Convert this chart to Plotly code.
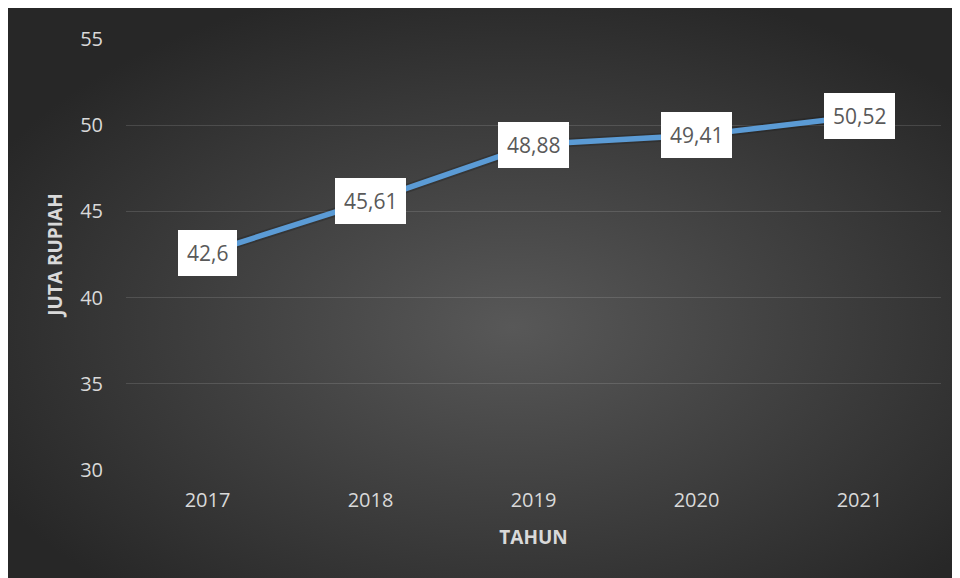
import base64
import plotly.graph_objects as go

# data
tahun = ["2017", "2018", "2019", "2020", "2021"]
nilai = [42.6, 45.61, 48.88, 49.41, 50.52]
label = ["42,6", "45,61", "48,88", "49,41", "50,52"]

# radial gradient background (dark excel style)
svg = """<svg xmlns='http://www.w3.org/2000/svg' width='952' height='570' viewBox='0 0 952 570' preserveAspectRatio='none'>
<defs><radialGradient id='g' cx='0.53' cy='0.56' r='0.62' gradientUnits='objectBoundingBox'>
<stop offset='0' stop-color='#585858'/><stop offset='1' stop-color='#272727'/></radialGradient></defs>
<rect width='952' height='570' fill='url(#g)'/></svg>"""
bg = "data:image/svg+xml;base64," + base64.b64encode(svg.encode()).decode()

# page body adds 8px margin, so the figure is a bit smaller than the window
W, H = 952, 570
L, R, T, B = 118, 19, 31, 108
pw, ph = W - L - R, H - T - B

fig = go.Figure()

# soft shadow under the line
fig.add_trace(go.Scatter(x=tahun, y=nilai, mode="lines",
                         line=dict(color="rgba(0,0,0,0.18)", width=9),
                         hoverinfo="skip", showlegend=False))
fig.add_trace(go.Scatter(x=tahun, y=nilai, mode="lines",
                         line=dict(color="#5B9BD5", width=5.5),
                         showlegend=False))

for i, (y, t) in enumerate(zip(nilai, label)):
    fig.add_annotation(x=i, y=y, xref="x", yref="y", text=t, showarrow=False,
                       font=dict(family="Open Sans", size=21, color="#595959"),
                       bgcolor="white", bordercolor="white", borderpad=8,
                       borderwidth=1)

fig.add_layout_image(dict(source=bg, xref="paper", yref="paper",
                          x=-L / pw, y=(H - B) / ph,
                          sizex=W / pw, sizey=H / ph,
                          sizing="stretch", layer="below",
                          xanchor="left", yanchor="top"))

fig.update_layout(
    width=W, height=H,
    margin=dict(l=L, r=R, t=T, b=B),
    paper_bgcolor="#2a2a2a",
    plot_bgcolor="rgba(0,0,0,0)",
    font=dict(family="Open Sans", color="#d9d9d9"),
    xaxis=dict(type="category", range=[-0.5, 4.5], showgrid=False,
               zeroline=False, showline=False, ticks="",
               tickfont=dict(size=20, color="#d9d9d9"),
               ticklabelstandoff=16,
               title=dict(text="<b>TAHUN</b>", standoff=18,
                          font=dict(size=19, color="#d9d9d9"))),
    yaxis=dict(range=[30, 55], dtick=5, showgrid=True,
               gridcolor="rgba(255,255,255,0.13)", gridwidth=1.2,
               zeroline=False, showline=False, ticks="",
               tickfont=dict(size=20, color="#d9d9d9"),
               ticklabelstandoff=22,
               title=dict(text="<b>JUTA RUPIAH</b>", standoff=12,
                          font=dict(size=19, color="#d9d9d9"))),
)

fig.write_html("out.html")
